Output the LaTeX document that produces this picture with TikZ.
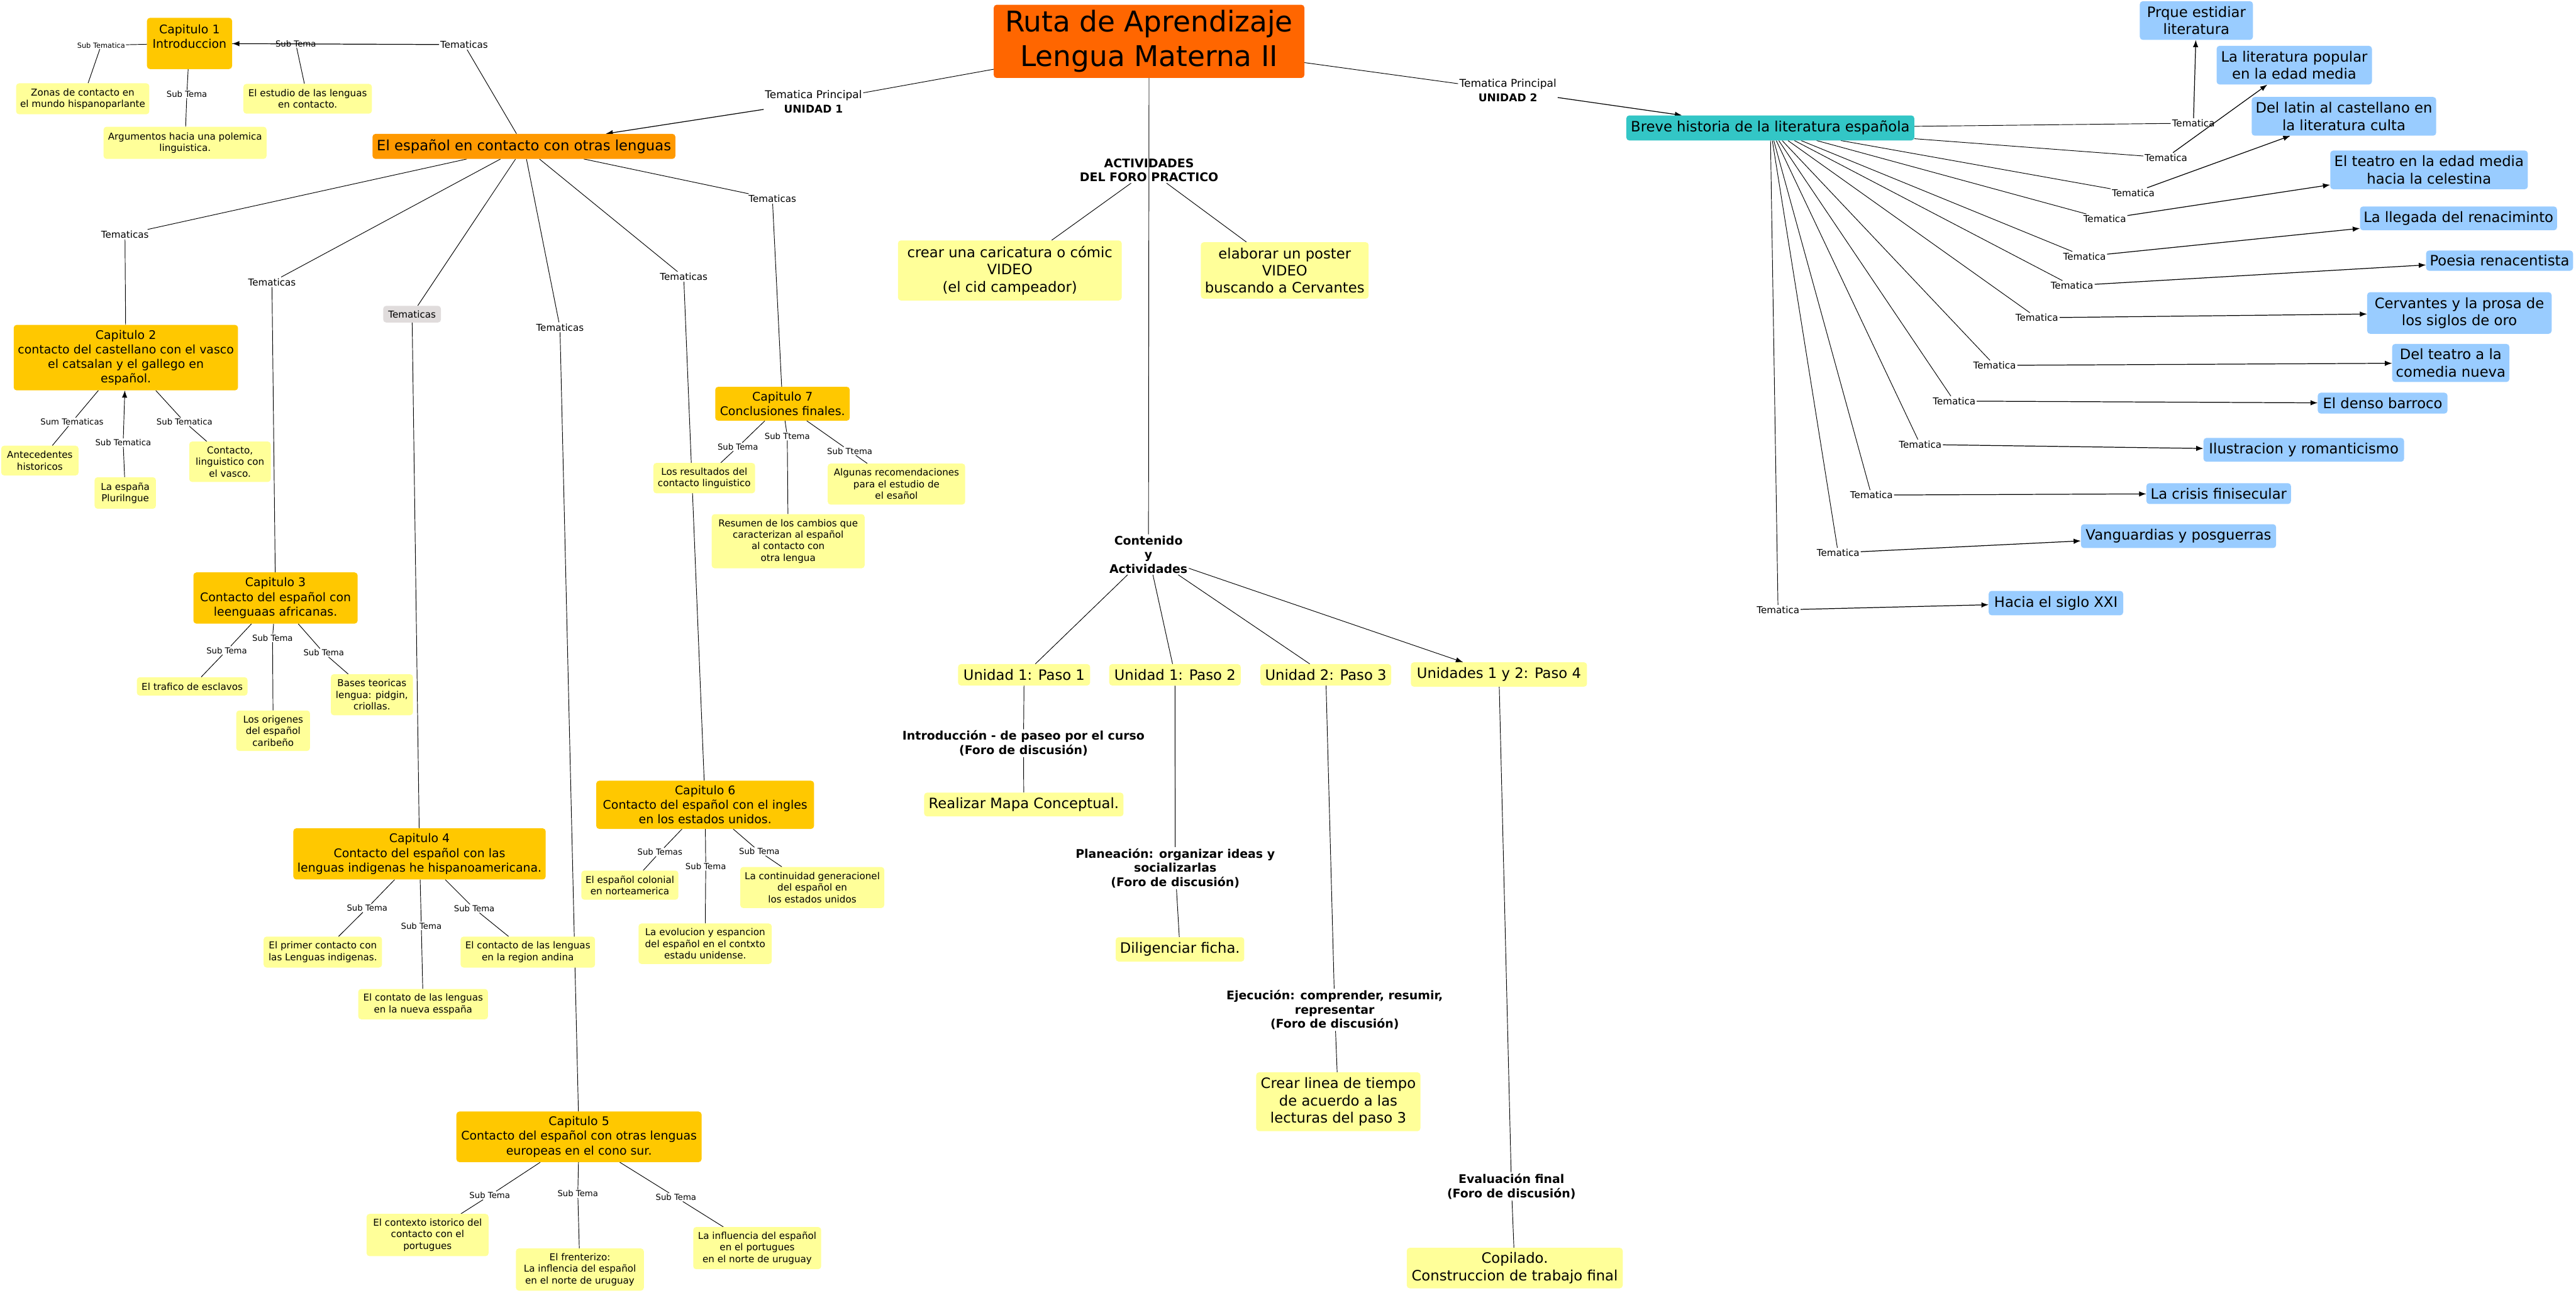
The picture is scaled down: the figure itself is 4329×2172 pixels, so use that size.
\documentclass[tikz,border=0pt]{standalone}
\usepackage{fontspec}
\setmainfont{DejaVu Sans}
\usetikzlibrary{arrows.meta}
\definecolor{cYel}{HTML}{FFFF99}
\definecolor{cChap}{HTML}{FFC800}
\definecolor{cOr}{HTML}{FF9900}
\definecolor{cTitle}{HTML}{FF6600}
\definecolor{cTeal}{HTML}{33C6C6}
\definecolor{cBlue}{HTML}{99CCFF}
\definecolor{cGray}{HTML}{E0DCDC}
\pgfdeclarelayer{bgl}
\pgfdeclarelayer{edges}
\pgfsetlayers{bgl,edges,main}
\tikzset{
  box/.style={rounded corners=5pt, inner sep=0pt, align=center},
  ybox/.style={box, fill=cYel, font=\fontsize{16}{19.5}\selectfont},
  chapbox/.style={box, fill=cChap, font=\fontsize{20}{24.5}\selectfont},
  bigy/.style={box, fill=cYel, font=\fontsize{24}{29}\selectfont},
  bluebox/.style={box, fill=cBlue, font=\fontsize{24}{29}\selectfont},
  sublab/.style={inner sep=1.5pt, align=center, font=\fontsize{14}{17}\selectfont},
  sublabS/.style={inner sep=1.5pt, align=center, font=\fontsize{12}{15}\selectfont},
  temlab/.style={inner sep=2pt, align=center, font=\fontsize{16}{19}\selectfont},
  plab/.style={inner sep=2pt, align=center, font=\fontsize{18}{24}\selectfont},
  boldlab/.style={inner sep=2pt, align=center, font=\bfseries\fontsize{20}{24}\selectfont},
  ln/.style={line width=1pt, draw=black},
  arr/.style={line width=1.3pt, draw=black, -{Latex[length=12pt,width=9pt]}},
}
\begin{document}
\begin{tikzpicture}[x=1pt,y=-1pt]
\useasboundingbox (0,0) rectangle (4329,2172);

% ---------- title and units ----------
\node[box, fill=cTitle, minimum width=522pt, minimum height=123pt, font=\fontsize{48}{58}\selectfont] (title) at (1931,69.5) {Ruta de Aprendizaje\\Lengua Materna II};
\node[plab] (uni1) at (1367,171) {Tematica Principal\\\textbf{UNIDAD 1}};
\node[plab] (uni2) at (2534,152) {Tematica Principal\\\textbf{UNIDAD 2}};
\node[box, fill=cOr, minimum width=509pt, minimum height=42pt, font=\fontsize{24}{29}\selectfont] (esp) at (880.5,246) {El español en contacto con otras lenguas};
\node[box, fill=cTeal, minimum width=484pt, minimum height=42pt, font=\fontsize{24}{29}\selectfont] (breve) at (2975,215) {Breve historia de la literatura española};

% ---------- Tematicas of unit 1 ----------
\node[temlab] (tem0) at (780,75) {Tematicas};
\node[temlab] (temA) at (210,394) {Tematicas};
\node[temlab] (temB) at (457,474) {Tematicas};
\node[box, fill=cGray, minimum width=97pt, minimum height=28pt, font=\fontsize{16}{19}\selectfont] (temC) at (692.5,528) {Tematicas};
\node[temlab] (temD) at (941,550) {Tematicas};
\node[temlab] (temE) at (1149,465) {Tematicas};
\node[temlab] (temF) at (1298,334) {Tematicas};

% ---------- Capitulo 1 ----------
\node[chapbox, minimum width=143pt, minimum height=86pt] (cap1) at (318.5,73) {Capitulo 1\\Introduccion\\\mbox{}};
\node[sublabS] (s1a) at (170,76) {Sub Tematica};
\node[ybox, minimum width=224pt, minimum height=52pt] (zonas) at (139,166) {Zonas de contacto en\\el mundo hispanoparlante};
\node[sublab] (s1b) at (314,158) {Sub Tema};
\node[ybox, minimum width=274pt, minimum height=54pt] (argum) at (311,240) {Argumentos hacia una polemica\\linguistica.};
\node[sublab] (s1c) at (497,73) {Sub Tema};
\node[ybox, minimum width=216pt, minimum height=50pt] (estud) at (517,166) {El estudio de las lenguas\\en contacto.};

% ---------- Capitulo 2 ----------
\node[chapbox, minimum width=377pt, minimum height=110pt] (cap2) at (211.5,601) {Capitulo 2\\contacto del castellano con el vasco\\el catsalan y el gallego en\\español.};
\node[sublab] (s2a) at (121,709) {Sum Tematicas};
\node[ybox, minimum width=130pt, minimum height=50pt] (antec) at (67,774) {Antecedentes\\historicos};
\node[sublab] (s2b) at (207,744) {Sub Tematica};
\node[ybox, minimum width=103pt, minimum height=53pt] (espana) at (210.5,828.5) {La españa\\Plurilngue};
\node[sublab] (s2c) at (310,709) {Sub Tematica};
\node[ybox, minimum width=137pt, minimum height=68pt] (contac) at (386.5,776) {Contacto,\\linguistico con\\el vasco.};

% ---------- Capitulo 3 ----------
\node[chapbox, minimum width=276pt, minimum height=86pt] (cap3) at (463,1005) {Capitulo 3\\Contacto del español con\\leenguaas africanas.};
\node[sublab] (s3a) at (381,1093) {Sub Tema};
\node[ybox, minimum width=186pt, minimum height=31pt] (trafico) at (323,1153.5) {El trafico de esclavos};
\node[sublab] (s3b) at (458,1072) {Sub Tema};
\node[ybox, minimum width=124pt, minimum height=68pt] (origen) at (459,1228) {Los origenes\\del español\\caribeño};
\node[sublab] (s3c) at (544,1097) {Sub Tema};
\node[ybox, minimum width=138pt, minimum height=69pt] (bases) at (625,1167.5) {Bases teoricas\\lengua: pidgin,\\criollas.};

% ---------- Capitulo 4 ----------
\node[chapbox, minimum width=424pt, minimum height=86pt] (cap4) at (705,1435) {Capitulo 4\\Contacto del español con las\\lenguas indigenas he hispanoamericana.};
\node[sublab] (s4a) at (617,1526) {Sub Tema};
\node[ybox, minimum width=199pt, minimum height=52pt] (primer) at (542.5,1600) {El primer contacto con\\las Lenguas indigenas.};
\node[sublab] (s4b) at (708,1556) {Sub Tema};
\node[ybox, minimum width=218pt, minimum height=51pt] (contato) at (711,1687.5) {El contato de las lenguas\\en la nueva esspaña};
\node[sublab] (s4c) at (797,1527) {Sub Tema};
\node[ybox, minimum width=226pt, minimum height=52pt] (andina) at (887,1600) {El contacto de las lenguas\\en la region andina};

% ---------- Capitulo 5 ----------
\node[chapbox, minimum width=412pt, minimum height=85pt] (cap5) at (973,1910.5) {Capitulo 5\\Contacto del español con otras lenguas\\europeas en el cono sur.};
\node[sublab] (s5a) at (823,2009) {Sub Tema};
\node[ybox, minimum width=205pt, minimum height=71pt] (contexto) at (718.5,2075.5) {El contexto istorico del\\contacto con el\\portugues};
\node[sublab] (s5b) at (971,2006) {Sub Tema};
\node[ybox, minimum width=215pt, minimum height=71pt] (frente) at (974.5,2133.5) {El frenterizo:\\La inflencia del español\\en el norte de uruguay};
\node[sublab] (s5c) at (1136,2012) {Sub Tema};
\node[ybox, minimum width=215pt, minimum height=71pt] (influ) at (1272.5,2097.5) {La influencia del español\\en el portugues\\en el norte de uruguay};

% ---------- Capitulo 6 ----------
\node[chapbox, minimum width=366pt, minimum height=81pt] (cap6) at (1185,1352.5) {Capitulo 6\\Contacto del español con el ingles\\en los estados unidos.};
\node[sublab] (s6a) at (1109,1432) {Sub Temas};
\node[ybox, minimum width=163pt, minimum height=49pt] (colon) at (1058.5,1487.5) {El español colonial\\en norteamerica};
\node[sublab] (s6b) at (1186,1456) {Sub Tema};
\node[ybox, minimum width=224pt, minimum height=68pt] (evol) at (1185,1586) {La evolucion y espancion\\del español en el contxto\\estadu unidense.};
\node[sublab] (s6c) at (1276,1431) {Sub Tema};
\node[ybox, minimum width=242pt, minimum height=69pt] (contin) at (1365,1491.5) {La continuidad generacionel\\del español en\\los estados unidos};

% ---------- Capitulo 7 ----------
\node[chapbox, minimum width=226pt, minimum height=57pt] (cap7) at (1315,678.5) {Capitulo 7\\Conclusiones finales.};
\node[sublab] (s7a) at (1240,751) {Sub Tema};
\node[ybox, minimum width=171pt, minimum height=51pt] (result) at (1183.5,803.5) {Los resultados del\\contacto linguistico};
\node[sublab] (s7b) at (1323,733) {Sub Ttema};
\node[ybox, minimum width=257pt, minimum height=91pt] (resumen) at (1324.5,909.5) {Resumen de los cambios que\\caracterizan al español\\al contacto con\\otra lengua};
\node[sublab] (s7c) at (1428,758) {Sub Ttema};
\node[ybox, minimum width=231pt, minimum height=69pt] (algunas) at (1506.5,813.5) {Algunas recomendaciones\\para el estudio de\\el esañol};

% ---------- centre column ----------
\node[boldlab] (activ) at (1931,286) {ACTIVIDADES\\DEL FORO PRACTICO};
\node[bigy, minimum width=376pt, minimum height=101pt] (crear) at (1697,454.5) {crear una caricatura o cómic\\VIDEO\\(el cid campeador)};
\node[bigy, minimum width=282pt, minimum height=95pt] (elab) at (2159,454.5) {elaborar un poster\\VIDEO\\buscando a Cervantes};
\node[boldlab] (conten) at (1930,932) {Contenido\\y\\Actividades};
\node[bigy, minimum width=222pt, minimum height=36pt] (paso1) at (1721,1134) {Unidad 1: Paso 1};
\node[bigy, minimum width=221pt, minimum height=36pt] (paso2) at (1974.5,1134) {Unidad 1: Paso 2};
\node[bigy, minimum width=220pt, minimum height=36pt] (paso3) at (2228,1134) {Unidad 2: Paso 3};
\node[bigy, minimum width=296pt, minimum height=41pt] (paso4) at (2519,1133.5) {Unidades 1 y 2: Paso 4};
\node[boldlab] (intro) at (1720,1249) {Introducción - de paseo por el curso\\(Foro de discusión)};
\node[bigy, minimum width=335pt, minimum height=40pt] (realiz) at (1720.5,1352) {Realizar Mapa Conceptual.};
\node[boldlab] (plan) at (1975,1459) {Planeación: organizar ideas y\\socializarlas\\(Foro de discusión)};
\node[bigy, minimum width=216pt, minimum height=41pt] (dilig) at (1983,1595.5) {Diligenciar ficha.};
\node[boldlab] (ejec) at (2243,1697) {Ejecución: comprender, resumir,\\representar\\(Foro de discusión)};
\node[bigy, minimum width=276pt, minimum height=99pt] (crearl) at (2249,1851.5) {Crear linea de tiempo\\de acuerdo a las\\lecturas del paso 3};
\node[boldlab] (evalf) at (2540,1994) {Evaluación final\\(Foro de discusión)};
\node[bigy, minimum width=363pt, minimum height=68pt] (copil) at (2545.5,2131) {Copilado.\\Construccion de trabajo final};

% ---------- right branch ----------
\node[bluebox, minimum width=190pt, minimum height=65pt] (b1) at (3691,34.5) {Prque estidiar\\literatura};
\node[bluebox, minimum width=261pt, minimum height=65pt] (b2) at (3855.5,109.5) {La literatura popular\\en la edad media};
\node[bluebox, minimum width=310pt, minimum height=65pt] (b3) at (3939,195.5) {Del latin al castellano en\\la literatura culta};
\node[bluebox, minimum width=332pt, minimum height=65pt] (b4) at (4082,285.5) {El teatro en la edad media\\hacia la celestina};
\node[bluebox, minimum width=331pt, minimum height=40pt] (b5) at (4131.5,367) {La llegada del renaciminto};
\node[bluebox, minimum width=247pt, minimum height=34pt] (b6) at (4200.5,438) {Poesia renacentista};
\node[bluebox, minimum width=310pt, minimum height=70pt] (b7) at (4133,526) {Cervantes y la prosa de\\los siglos de oro};
\node[bluebox, minimum width=197pt, minimum height=64pt] (b8) at (4118.5,610) {Del teatro a la\\comedia nueva};
\node[bluebox, minimum width=218pt, minimum height=35pt] (b9) at (4004,677.5) {El denso barroco};
\node[bluebox, minimum width=337pt, minimum height=40pt] (b10) at (3871.5,756) {Ilustracion y romanticismo};
\node[bluebox, minimum width=243pt, minimum height=35pt] (b11) at (3728.5,829.5) {La crisis finisecular};
\node[bluebox, minimum width=328pt, minimum height=40pt] (b12) at (3661,901) {Vanguardias y posguerras};
\node[bluebox, minimum width=226pt, minimum height=41pt] (b13) at (3455,1013.5) {Hacia el siglo XXI};

\foreach \i/\x/\y in {1/3686/207, 2/3640/265, 3/3585/324, 4/3537/368, 5/3503/431, 6/3482/480, 7/3423/534, 8/3352/614, 9/3284/674, 10/3227/747, 11/3145/832, 12/3089/929, 13/2988/1025}
  \node[temlab] (t\i) at (\x,\y) {Tematica};

% ---------- layers ----------
\begin{pgfonlayer}{bgl}
  \fill[white] (0,0) rectangle (4329,2172);
\end{pgfonlayer}
\begin{pgfonlayer}{edges}
  \draw[ln] (title) -- (uni1);
  \draw[arr] (uni1) -- (esp);
  \draw[ln] (title) -- (uni2);
  \draw[arr] (uni2) -- (breve);
  \draw[ln] (title) -- (conten);
  \draw[ln] (activ) -- (crear);
  \draw[ln] (activ) -- (elab);
  \draw[ln] (conten) -- (paso1);
  \draw[ln] (conten) -- (paso2);
  \draw[ln] (conten) -- (paso3);
  \draw[arr, line width=1pt] (conten) -- (paso4);
  \draw[ln] (paso1) -- (intro);  \draw[ln] (intro) -- (realiz);
  \draw[ln] (paso2) -- (plan);   \draw[ln] (plan) -- (dilig);
  \draw[ln] (paso3) -- (ejec);   \draw[ln] (ejec) -- (crearl);
  \draw[ln] (paso4) -- (evalf);  \draw[ln] (evalf) -- (copil);
  % unit 1 fan
  \draw[ln] (esp) -- (tem0);
  \draw[arr] (tem0) -- (cap1);
  \foreach \t/\c in {temA/cap2, temB/cap3, temC/cap4, temD/cap5, temE/cap6, temF/cap7}{
    \draw[ln] (esp) -- (\t);
    \draw[ln] (\t) -- (\c);
  }
  \foreach \c/\s/\b in {cap1/s1a/zonas, cap1/s1b/argum, cap1/s1c/estud,
      cap2/s2a/antec, cap2/s2c/contac,
      cap3/s3a/trafico, cap3/s3b/origen, cap3/s3c/bases,
      cap4/s4a/primer, cap4/s4b/contato, cap4/s4c/andina,
      cap5/s5a/contexto, cap5/s5b/frente, cap5/s5c/influ,
      cap6/s6a/colon, cap6/s6b/evol, cap6/s6c/contin,
      cap7/s7a/result, cap7/s7b/resumen, cap7/s7c/algunas}{
    \draw[ln] (\c) -- (\s);
    \draw[ln] (\s) -- (\b);
  }
  \draw[ln] (espana) -- (s2b);
  \draw[arr, line width=1pt] (s2b) -- (cap2);
  % unit 2 fan
  \foreach \i in {1,...,13}{
    \draw[ln] (breve) -- (t\i);
    \draw[arr] (t\i) -- (b\i);
  }
\end{pgfonlayer}
\end{tikzpicture}
\end{document}
